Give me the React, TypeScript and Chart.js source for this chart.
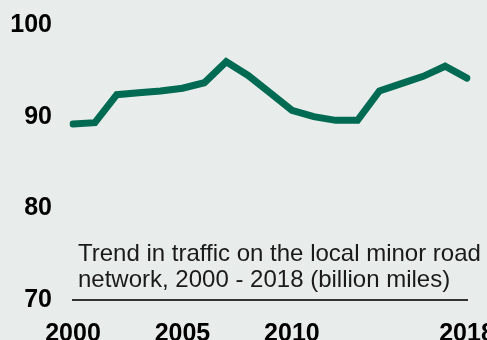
import React, { useEffect, useRef } from "react";
import { Chart, registerables } from "chart.js";

Chart.register(...registerables);

const years = ["2000","2001","2002","2003","2004","2005","2006","2007","2008","2009","2010","2011","2012","2013","2014","2015","2016","2017","2018"];
const traffic = [89.2, 89.35, 92.4, 92.6, 92.8, 93.1, 93.7, 96.0, 94.5, 92.6, 90.7, 90.0, 89.6, 89.6, 92.8, 93.6, 94.4, 95.5, 94.2];
const xTickLabels = ["2000", "2005", "2010", "2018"];
const yTicks = [70, 80, 90, 100];
const noteLines = ["Trend in traffic on the local minor road", "network, 2000 - 2018 (billion miles)"];

const FONT = "'Liberation Sans', Arial, sans-serif";

export default function App() {
  const ref = useRef<HTMLCanvasElement | null>(null);
  useEffect(() => {
    document.body.style.margin = "0";
    const canvas = ref.current!;
    const notePlugin = {
      id: "note",
      afterDraw(chart: any) {
        const ctx = chart.ctx;
        ctx.save();
        ctx.fillStyle = "#1a1a1a";
        ctx.font = `24px ${FONT}`;
        ctx.textBaseline = "alphabetic";
        ctx.textAlign = "left";
        ctx.fillText(noteLines[0], 78, 261);
        ctx.fillText(noteLines[1], 78, 287);
        ctx.restore();
      },
    };
    const bgPlugin = {
      id: "bg",
      beforeDraw(chart: any) {
        const ctx = chart.ctx;
        ctx.save();
        ctx.fillStyle = "#e8ecea";
        ctx.fillRect(0, 0, chart.width, chart.height);
        ctx.restore();
      },
    };
    const chart = new Chart(canvas, {
      type: "line",
      data: {
        labels: years,
        datasets: [
          {
            data: traffic,
            borderColor: "#006b52",
            borderWidth: 7,
            pointRadius: 0,
            borderCapStyle: "round",
            borderJoinStyle: "miter",
            tension: 0,
            fill: false,
          },
        ],
      },
      options: {
        animation: false,
        responsive: false,
        devicePixelRatio: 1,
        layout: { padding: { top: 25, right: 20, left: 0, bottom: 0 } },
        plugins: { legend: { display: false }, tooltip: { enabled: false }, title: { display: false } },
        scales: {
          x: {
            offset: false,
            grid: { display: false, drawTicks: false },
            border: { display: true, color: "#333333", width: 2 },
            ticks: {
              autoSkip: false,
              maxRotation: 0,
              padding: 19,
              color: "#000",
              font: { family: FONT, size: 25, weight: "bold" },
              callback: function (this: any, v: any) {
                const l = years[v as number];
                return xTickLabels.includes(l) ? l : "";
              },
            },
            afterFit: (s: any) => {
              s.height = 40;
              s.paddingLeft = 0;
              s.paddingRight = 0;
            },
          },
          y: {
            min: 70,
            max: 100,
            grid: { display: false, drawTicks: false },
            border: { display: false },
            afterBuildTicks: (s: any) => {
              s.ticks = yTicks.map((v) => ({ value: v }));
            },
            ticks: {
              padding: 21,
              color: "#000",
              font: { family: FONT, size: 25, weight: "bold" },
            },
            afterFit: (s: any) => {
              s.width = 73;
              s.paddingTop = 0;
              s.paddingBottom = 0;
            },
          },
        },
      },
      plugins: [bgPlugin, notePlugin],
    });
    return () => chart.destroy();
  }, []);
  return (
    <div style={{ width: 487, height: 340 }}>
      <canvas ref={ref} width={487} height={340} style={{ display: "block" }} />
    </div>
  );
}
